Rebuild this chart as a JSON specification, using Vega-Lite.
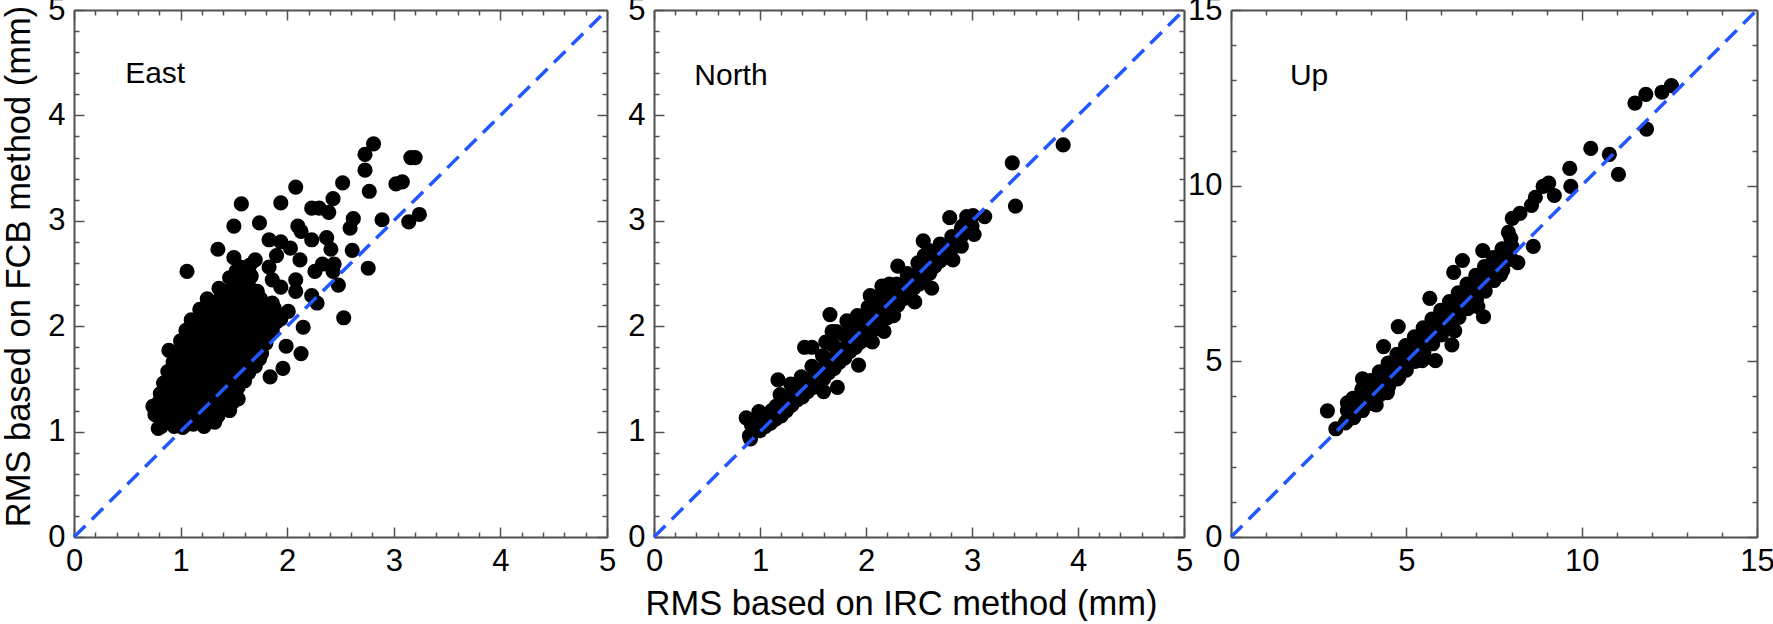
{
  "$schema": "https://vega.github.io/schema/vega-lite/v6.json",
  "background": "white",
  "padding": {"left": 0, "top": -6, "right": 0, "bottom": 0},
  "bounds": "flush",
  "spacing": 47,
  "config": {
    "view": {"stroke": null},
    "font": "Liberation Sans",
    "axis": {
      "domainColor": "#505050", "domainWidth": 2,
      "tickColor": "#505050", "tickWidth": 1.5,
      "labelFont": "Liberation Sans", "labelFontSize": 31, "labelColor": "black",
      "titleFont": "Liberation Sans", "titleFontSize": 34.5, "titleFontWeight": "normal", "titleColor": "black",
      "grid": false, "labelFlush": false, "labelOverlap": false
    }
  },
  "datasets": {
    "pts": [
      {"p":"E","x":1.06,"y":2.52},{"p":"E","x":2.81,"y":3.73},{"p":"E","x":2.73,"y":3.63},{"p":"E","x":2.73,"y":3.48},{"p":"E","x":2.77,"y":3.28},{"p":"E","x":3.16,"y":3.6},{"p":"E","x":3.2,"y":3.6},{"p":"E","x":3.08,"y":3.37},{"p":"E","x":3.02,"y":3.35},{"p":"E","x":3.24,"y":3.06},{"p":"E","x":3.14,"y":2.99},{"p":"E","x":2.89,"y":3.01},{"p":"E","x":2.76,"y":2.55},{"p":"E","x":2.53,"y":2.08},{"p":"E","x":2.52,"y":3.36},{"p":"E","x":2.08,"y":3.32},{"p":"E","x":1.57,"y":3.16},{"p":"E","x":1.94,"y":3.17},{"p":"E","x":1.5,"y":2.95},{"p":"E","x":1.74,"y":2.98},{"p":"E","x":1.35,"y":2.73},{"p":"E","x":0.89,"y":1.77},{"p":"E","x":0.88,"y":1.57},{"p":"E","x":0.79,"y":1.03},{"p":"E","x":0.74,"y":1.24},{"p":"E","x":2.13,"y":1.74},{"p":"E","x":1.84,"y":1.52},{"p":"E","x":1.96,"y":1.6},{"p":"E","x":1.99,"y":1.81},{"p":"E","x":2.15,"y":1.99},{"p":"E","x":2.28,"y":2.22},{"p":"E","x":2.48,"y":2.39},{"p":"E","x":2.61,"y":2.72},{"p":"E","x":2.59,"y":2.93},{"p":"E","x":2.62,"y":3.02},{"p":"E","x":2.43,"y":3.21},{"p":"E","x":2.39,"y":3.08},{"p":"E","x":2.23,"y":3.12},{"p":"E","x":2.3,"y":3.12},{"p":"E","x":2.13,"y":2.9},{"p":"E","x":2.1,"y":2.95},{"p":"E","x":2.23,"y":2.82},{"p":"E","x":2.37,"y":2.84},{"p":"E","x":2.41,"y":2.73},{"p":"E","x":2.33,"y":2.59},{"p":"E","x":2.44,"y":2.59},{"p":"E","x":2.43,"y":2.52},{"p":"E","x":2.26,"y":2.52},{"p":"E","x":2.12,"y":2.63},{"p":"E","x":2.03,"y":2.74},{"p":"E","x":1.94,"y":2.8},{"p":"E","x":1.83,"y":2.82},{"p":"E","x":1.9,"y":2.67},{"p":"E","x":1.7,"y":2.63},{"p":"E","x":1.66,"y":2.48},{"p":"E","x":1.52,"y":2.52},{"p":"E","x":1.5,"y":2.65},{"p":"E","x":2.08,"y":2.44},{"p":"E","x":2.08,"y":2.33},{"p":"E","x":2.23,"y":2.29},{"p":"E","x":1.94,"y":2.37},{"p":"E","x":1.86,"y":2.22},{"p":"E","x":2.01,"y":2.14},{"p":"E","x":1.94,"y":2.07},{"p":"E","x":1.79,"y":2.11},{"p":"E","x":1.86,"y":1.96},{"p":"E","x":1.72,"y":1.88},{"p":"E","x":1.74,"y":1.69},{"p":"E","x":1.64,"y":1.56},{"p":"E","x":1.54,"y":1.47},{"p":"E","x":1.54,"y":1.31},{"p":"E","x":1.35,"y":1.15},{"p":"E","x":1.23,"y":1.13},{"p":"E","x":1.06,"y":1.07},{"p":"E","x":0.94,"y":1.05},{"p":"E","x":1.83,"y":2.56},{"p":"E","x":1.61,"y":2.48},{"p":"E","x":1.86,"y":2.44},
      {"p":"E","x":0.82,"y":1.05},{"p":"E","x":0.92,"y":1.08},{"p":"E","x":1.02,"y":1.04},{"p":"E","x":1.12,"y":1.07},{"p":"E","x":1.22,"y":1.05},{"p":"E","x":1.32,"y":1.09},
      {"p":"E","x":0.76,"y":1.16},{"p":"E","x":0.86,"y":1.14},{"p":"E","x":0.96,"y":1.17},{"p":"E","x":1.06,"y":1.15},{"p":"E","x":1.16,"y":1.13},{"p":"E","x":1.26,"y":1.17},{"p":"E","x":1.36,"y":1.18},{"p":"E","x":1.46,"y":1.2},
      {"p":"E","x":0.79,"y":1.27},{"p":"E","x":0.89,"y":1.24},{"p":"E","x":0.99,"y":1.26},{"p":"E","x":1.09,"y":1.25},{"p":"E","x":1.19,"y":1.23},{"p":"E","x":1.29,"y":1.27},{"p":"E","x":1.39,"y":1.26},{"p":"E","x":1.49,"y":1.28},
      {"p":"E","x":0.81,"y":1.36},{"p":"E","x":0.91,"y":1.34},{"p":"E","x":1.01,"y":1.37},{"p":"E","x":1.11,"y":1.35},{"p":"E","x":1.21,"y":1.33},{"p":"E","x":1.31,"y":1.36},{"p":"E","x":1.41,"y":1.35},{"p":"E","x":1.51,"y":1.38},
      {"p":"E","x":0.84,"y":1.46},{"p":"E","x":0.94,"y":1.44},{"p":"E","x":1.04,"y":1.47},{"p":"E","x":1.14,"y":1.45},{"p":"E","x":1.24,"y":1.43},{"p":"E","x":1.34,"y":1.46},{"p":"E","x":1.44,"y":1.45},{"p":"E","x":1.54,"y":1.42},{"p":"E","x":1.6,"y":1.48},
      {"p":"E","x":0.9,"y":1.56},{"p":"E","x":1.0,"y":1.54},{"p":"E","x":1.1,"y":1.57},{"p":"E","x":1.2,"y":1.55},{"p":"E","x":1.3,"y":1.53},{"p":"E","x":1.4,"y":1.56},{"p":"E","x":1.5,"y":1.55},{"p":"E","x":1.6,"y":1.6},
      {"p":"E","x":0.93,"y":1.66},{"p":"E","x":1.03,"y":1.64},{"p":"E","x":1.13,"y":1.67},{"p":"E","x":1.23,"y":1.65},{"p":"E","x":1.33,"y":1.63},{"p":"E","x":1.43,"y":1.66},{"p":"E","x":1.53,"y":1.65},{"p":"E","x":1.63,"y":1.67},{"p":"E","x":1.7,"y":1.62},
      {"p":"E","x":0.97,"y":1.76},{"p":"E","x":1.07,"y":1.74},{"p":"E","x":1.17,"y":1.77},{"p":"E","x":1.27,"y":1.75},{"p":"E","x":1.37,"y":1.73},{"p":"E","x":1.47,"y":1.76},{"p":"E","x":1.57,"y":1.75},{"p":"E","x":1.67,"y":1.77},{"p":"E","x":1.76,"y":1.74},
      {"p":"E","x":1.0,"y":1.86},{"p":"E","x":1.1,"y":1.84},{"p":"E","x":1.2,"y":1.87},{"p":"E","x":1.3,"y":1.85},{"p":"E","x":1.4,"y":1.83},{"p":"E","x":1.5,"y":1.86},{"p":"E","x":1.6,"y":1.85},{"p":"E","x":1.7,"y":1.87},{"p":"E","x":1.8,"y":1.84},
      {"p":"E","x":1.05,"y":1.96},{"p":"E","x":1.15,"y":1.94},{"p":"E","x":1.25,"y":1.97},{"p":"E","x":1.35,"y":1.95},{"p":"E","x":1.45,"y":1.93},{"p":"E","x":1.55,"y":1.96},{"p":"E","x":1.65,"y":1.95},{"p":"E","x":1.75,"y":1.97},{"p":"E","x":1.85,"y":1.94},
      {"p":"E","x":1.1,"y":2.06},{"p":"E","x":1.2,"y":2.04},{"p":"E","x":1.3,"y":2.07},{"p":"E","x":1.4,"y":2.05},{"p":"E","x":1.5,"y":2.03},{"p":"E","x":1.6,"y":2.06},{"p":"E","x":1.7,"y":2.05},{"p":"E","x":1.8,"y":2.07},{"p":"E","x":1.9,"y":2.04},
      {"p":"E","x":1.18,"y":2.16},{"p":"E","x":1.28,"y":2.14},{"p":"E","x":1.38,"y":2.17},{"p":"E","x":1.48,"y":2.15},{"p":"E","x":1.58,"y":2.13},{"p":"E","x":1.68,"y":2.16},{"p":"E","x":1.78,"y":2.15},{"p":"E","x":1.88,"y":2.17},
      {"p":"E","x":1.25,"y":2.26},{"p":"E","x":1.35,"y":2.24},{"p":"E","x":1.45,"y":2.27},{"p":"E","x":1.55,"y":2.25},{"p":"E","x":1.65,"y":2.23},{"p":"E","x":1.75,"y":2.26},
      {"p":"E","x":1.36,"y":2.36},{"p":"E","x":1.46,"y":2.34},{"p":"E","x":1.56,"y":2.37},{"p":"E","x":1.66,"y":2.35},{"p":"E","x":1.72,"y":2.33},
      {"p":"E","x":1.46,"y":2.46},{"p":"E","x":1.56,"y":2.44},{"p":"E","x":1.66,"y":2.47},{"p":"E","x":1.56,"y":2.56},{"p":"E","x":1.65,"y":2.58},
      {"p":"E","x":0.87,"y":1.1},{"p":"E","x":0.97,"y":1.12},{"p":"E","x":1.07,"y":1.11},{"p":"E","x":1.17,"y":1.1},{"p":"E","x":1.27,"y":1.12},{"p":"E","x":0.84,"y":1.2},{"p":"E","x":0.94,"y":1.21},{"p":"E","x":1.04,"y":1.2},{"p":"E","x":1.14,"y":1.19},{"p":"E","x":1.24,"y":1.21},{"p":"E","x":1.34,"y":1.22},{"p":"E","x":1.44,"y":1.24},{"p":"E","x":0.86,"y":1.31},{"p":"E","x":0.96,"y":1.3},{"p":"E","x":1.06,"y":1.31},{"p":"E","x":1.16,"y":1.29},{"p":"E","x":1.26,"y":1.31},{"p":"E","x":1.36,"y":1.3},{"p":"E","x":1.46,"y":1.32},{"p":"E","x":0.88,"y":1.41},{"p":"E","x":0.98,"y":1.4},{"p":"E","x":1.08,"y":1.41},{"p":"E","x":1.18,"y":1.39},{"p":"E","x":1.28,"y":1.41},{"p":"E","x":1.38,"y":1.4},{"p":"E","x":1.48,"y":1.41},{"p":"E","x":0.95,"y":1.51},{"p":"E","x":1.05,"y":1.5},{"p":"E","x":1.15,"y":1.51},{"p":"E","x":1.25,"y":1.49},{"p":"E","x":1.35,"y":1.51},{"p":"E","x":1.45,"y":1.5},{"p":"E","x":1.55,"y":1.51},{"p":"E","x":0.98,"y":1.61},{"p":"E","x":1.08,"y":1.6},{"p":"E","x":1.18,"y":1.61},{"p":"E","x":1.28,"y":1.59},{"p":"E","x":1.38,"y":1.61},{"p":"E","x":1.48,"y":1.6},{"p":"E","x":1.58,"y":1.62},{"p":"E","x":1.02,"y":1.71},{"p":"E","x":1.12,"y":1.7},{"p":"E","x":1.22,"y":1.71},{"p":"E","x":1.32,"y":1.69},{"p":"E","x":1.42,"y":1.71},{"p":"E","x":1.52,"y":1.7},{"p":"E","x":1.62,"y":1.72},{"p":"E","x":1.05,"y":1.81},{"p":"E","x":1.15,"y":1.8},{"p":"E","x":1.25,"y":1.81},{"p":"E","x":1.35,"y":1.79},{"p":"E","x":1.45,"y":1.81},{"p":"E","x":1.55,"y":1.8},{"p":"E","x":1.65,"y":1.82},{"p":"E","x":1.75,"y":1.8},{"p":"E","x":1.1,"y":1.91},{"p":"E","x":1.2,"y":1.9},{"p":"E","x":1.3,"y":1.91},{"p":"E","x":1.4,"y":1.89},{"p":"E","x":1.5,"y":1.91},{"p":"E","x":1.6,"y":1.9},{"p":"E","x":1.7,"y":1.92},{"p":"E","x":1.8,"y":1.9},{"p":"E","x":1.15,"y":2.01},{"p":"E","x":1.25,"y":2.0},{"p":"E","x":1.35,"y":2.01},{"p":"E","x":1.45,"y":1.99},{"p":"E","x":1.55,"y":2.01},{"p":"E","x":1.65,"y":2.0},{"p":"E","x":1.75,"y":2.02},{"p":"E","x":1.85,"y":2.0},{"p":"E","x":1.22,"y":2.11},{"p":"E","x":1.32,"y":2.1},{"p":"E","x":1.42,"y":2.11},{"p":"E","x":1.52,"y":2.09},{"p":"E","x":1.62,"y":2.11},{"p":"E","x":1.72,"y":2.1},{"p":"E","x":1.82,"y":2.12},{"p":"E","x":1.3,"y":2.21},{"p":"E","x":1.4,"y":2.2},{"p":"E","x":1.5,"y":2.21},{"p":"E","x":1.6,"y":2.19},{"p":"E","x":1.7,"y":2.21},{"p":"E","x":1.4,"y":2.31},{"p":"E","x":1.5,"y":2.3},{"p":"E","x":1.6,"y":2.31},{"p":"E","x":1.51,"y":2.41},{"p":"E","x":1.61,"y":2.4},

      {"p":"N","x":3.86,"y":3.72},{"p":"N","x":3.38,"y":3.55},{"p":"N","x":3.41,"y":3.14},{"p":"N","x":3.12,"y":3.04},{"p":"N","x":3.02,"y":2.87},{"p":"N","x":2.95,"y":3.04},{"p":"N","x":2.79,"y":3.03},{"p":"N","x":2.9,"y":2.93},{"p":"N","x":2.82,"y":2.63},{"p":"N","x":2.9,"y":2.76},{"p":"N","x":2.7,"y":2.78},{"p":"N","x":2.54,"y":2.81},{"p":"N","x":2.3,"y":2.57},{"p":"N","x":2.62,"y":2.36},{"p":"N","x":2.64,"y":2.63},{"p":"N","x":2.55,"y":2.67},{"p":"N","x":2.51,"y":2.55},{"p":"N","x":2.39,"y":2.48},{"p":"N","x":2.46,"y":2.23},{"p":"N","x":2.37,"y":2.33},{"p":"N","x":2.15,"y":2.38},{"p":"N","x":2.04,"y":2.29},{"p":"N","x":2.26,"y":2.1},{"p":"N","x":2.17,"y":1.95},{"p":"N","x":2.06,"y":1.85},{"p":"N","x":1.93,"y":1.63},{"p":"N","x":1.66,"y":2.11},{"p":"N","x":1.68,"y":1.95},{"p":"N","x":1.49,"y":1.8},{"p":"N","x":1.42,"y":1.8},{"p":"N","x":1.73,"y":1.42},{"p":"N","x":1.6,"y":1.38},{"p":"N","x":1.17,"y":1.49},{"p":"N","x":0.87,"y":1.13},{"p":"N","x":0.91,"y":0.93},{"p":"N","x":0.95,"y":1.0},
      {"p":"N","x":0.9,"y":0.96},{"p":"N","x":0.92,"y":1.06},{"p":"N","x":1.0,"y":1.01},{"p":"N","x":1.01,"y":1.12},{"p":"N","x":0.99,"y":1.19},{"p":"N","x":1.1,"y":1.08},{"p":"N","x":1.11,"y":1.2},{"p":"N","x":1.2,"y":1.15},{"p":"N","x":1.21,"y":1.27},{"p":"N","x":1.19,"y":1.35},{"p":"N","x":1.3,"y":1.25},{"p":"N","x":1.31,"y":1.35},{"p":"N","x":1.29,"y":1.45},{"p":"N","x":1.4,"y":1.33},{"p":"N","x":1.41,"y":1.43},{"p":"N","x":1.39,"y":1.52},{"p":"N","x":1.5,"y":1.42},{"p":"N","x":1.51,"y":1.52},{"p":"N","x":1.49,"y":1.62},{"p":"N","x":1.6,"y":1.5},{"p":"N","x":1.61,"y":1.62},{"p":"N","x":1.59,"y":1.72},{"p":"N","x":1.62,"y":1.85},{"p":"N","x":1.7,"y":1.6},{"p":"N","x":1.71,"y":1.7},{"p":"N","x":1.69,"y":1.82},{"p":"N","x":1.72,"y":1.95},{"p":"N","x":1.8,"y":1.7},{"p":"N","x":1.81,"y":1.8},{"p":"N","x":1.79,"y":1.92},{"p":"N","x":1.82,"y":2.05},{"p":"N","x":1.9,"y":1.8},{"p":"N","x":1.91,"y":1.9},{"p":"N","x":1.89,"y":2.0},{"p":"N","x":1.92,"y":2.1},{"p":"N","x":2.0,"y":1.88},{"p":"N","x":2.01,"y":1.98},{"p":"N","x":1.99,"y":2.08},{"p":"N","x":2.02,"y":2.18},{"p":"N","x":2.1,"y":1.98},{"p":"N","x":2.11,"y":2.08},{"p":"N","x":2.09,"y":2.18},{"p":"N","x":2.12,"y":2.28},{"p":"N","x":2.2,"y":2.08},{"p":"N","x":2.21,"y":2.18},{"p":"N","x":2.19,"y":2.28},{"p":"N","x":2.22,"y":2.4},{"p":"N","x":2.3,"y":2.2},{"p":"N","x":2.31,"y":2.3},{"p":"N","x":2.29,"y":2.4},{"p":"N","x":2.4,"y":2.3},{"p":"N","x":2.41,"y":2.4},{"p":"N","x":2.39,"y":2.5},{"p":"N","x":2.5,"y":2.4},{"p":"N","x":2.51,"y":2.5},{"p":"N","x":2.49,"y":2.6},{"p":"N","x":2.6,"y":2.5},{"p":"N","x":2.61,"y":2.62},{"p":"N","x":2.59,"y":2.72},{"p":"N","x":2.7,"y":2.62},{"p":"N","x":2.71,"y":2.72},{"p":"N","x":2.8,"y":2.72},{"p":"N","x":2.81,"y":2.85},{"p":"N","x":2.9,"y":2.85},{"p":"N","x":2.91,"y":2.95},{"p":"N","x":3.0,"y":2.95},{"p":"N","x":3.01,"y":3.05},
      {"p":"N","x":0.95,"y":1.08},{"p":"N","x":1.05,"y":1.05},{"p":"N","x":1.05,"y":1.15},{"p":"N","x":1.15,"y":1.12},{"p":"N","x":1.15,"y":1.24},{"p":"N","x":1.25,"y":1.2},{"p":"N","x":1.25,"y":1.32},{"p":"N","x":1.35,"y":1.3},{"p":"N","x":1.35,"y":1.41},{"p":"N","x":1.45,"y":1.38},{"p":"N","x":1.45,"y":1.49},{"p":"N","x":1.55,"y":1.47},{"p":"N","x":1.55,"y":1.58},{"p":"N","x":1.65,"y":1.56},{"p":"N","x":1.65,"y":1.68},{"p":"N","x":1.75,"y":1.66},{"p":"N","x":1.75,"y":1.78},{"p":"N","x":1.85,"y":1.76},{"p":"N","x":1.85,"y":1.88},{"p":"N","x":1.95,"y":1.85},{"p":"N","x":1.95,"y":1.97},{"p":"N","x":2.05,"y":1.95},{"p":"N","x":2.05,"y":2.07},{"p":"N","x":2.15,"y":2.05},{"p":"N","x":2.15,"y":2.17},{"p":"N","x":2.25,"y":2.15},{"p":"N","x":2.25,"y":2.27},{"p":"N","x":2.35,"y":2.26},{"p":"N","x":2.35,"y":2.37},{"p":"N","x":2.45,"y":2.36},{"p":"N","x":2.45,"y":2.47},{"p":"N","x":2.55,"y":2.46},{"p":"N","x":2.55,"y":2.57},{"p":"N","x":2.65,"y":2.57},{"p":"N","x":2.65,"y":2.68},{"p":"N","x":2.75,"y":2.68},{"p":"N","x":2.85,"y":2.79},{"p":"N","x":2.95,"y":2.9},

      {"p":"U","x":2.75,"y":3.59},{"p":"U","x":2.99,"y":3.08},{"p":"U","x":3.26,"y":3.25},{"p":"U","x":3.32,"y":3.82},{"p":"U","x":12.56,"y":12.85},{"p":"U","x":12.29,"y":12.66},{"p":"U","x":11.83,"y":12.6},{"p":"U","x":11.52,"y":12.35},{"p":"U","x":11.85,"y":11.61},{"p":"U","x":11.05,"y":10.32},{"p":"U","x":10.79,"y":10.89},{"p":"U","x":10.26,"y":11.06},{"p":"U","x":9.66,"y":10.49},{"p":"U","x":9.69,"y":9.98},{"p":"U","x":9.22,"y":9.72},{"p":"U","x":9.06,"y":10.07},{"p":"U","x":8.9,"y":9.98},{"p":"U","x":8.68,"y":9.67},{"p":"U","x":8.57,"y":9.44},{"p":"U","x":8.24,"y":9.21},{"p":"U","x":8.02,"y":9.07},{"p":"U","x":7.91,"y":8.67},{"p":"U","x":8.62,"y":8.27},{"p":"U","x":8.18,"y":7.81},{"p":"U","x":7.47,"y":7.41},{"p":"U","x":7.64,"y":7.81},{"p":"U","x":7.18,"y":8.15},{"p":"U","x":7.2,"y":6.27},{"p":"U","x":6.6,"y":7.87},{"p":"U","x":6.35,"y":7.53},{"p":"U","x":5.67,"y":6.79},{"p":"U","x":4.77,"y":5.99},{"p":"U","x":6.3,"y":5.47},{"p":"U","x":5.83,"y":5.02},{"p":"U","x":5.45,"y":5.02},{"p":"U","x":4.35,"y":5.42},{"p":"U","x":3.75,"y":4.5},{"p":"U","x":4.14,"y":3.76},{"p":"U","x":4.46,"y":4.11},{"p":"U","x":4.79,"y":4.56},{"p":"U","x":6.38,"y":5.87},{"p":"U","x":7.04,"y":6.56},{"p":"U","x":7.69,"y":7.47},
      {"p":"U","x":3.3,"y":3.3},{"p":"U","x":3.32,"y":3.6},{"p":"U","x":3.5,"y":3.4},{"p":"U","x":3.52,"y":3.7},{"p":"U","x":3.48,"y":3.95},{"p":"U","x":3.75,"y":3.6},{"p":"U","x":3.77,"y":3.9},{"p":"U","x":3.73,"y":4.2},{"p":"U","x":4.0,"y":3.8},{"p":"U","x":4.02,"y":4.15},{"p":"U","x":3.98,"y":4.45},{"p":"U","x":4.25,"y":4.05},{"p":"U","x":4.27,"y":4.4},{"p":"U","x":4.23,"y":4.7},{"p":"U","x":4.5,"y":4.3},{"p":"U","x":4.52,"y":4.65},{"p":"U","x":4.48,"y":4.95},{"p":"U","x":4.75,"y":4.5},{"p":"U","x":4.77,"y":4.85},{"p":"U","x":4.73,"y":5.2},{"p":"U","x":5.0,"y":4.75},{"p":"U","x":5.02,"y":5.1},{"p":"U","x":4.98,"y":5.45},{"p":"U","x":5.25,"y":5.0},{"p":"U","x":5.27,"y":5.35},{"p":"U","x":5.23,"y":5.7},{"p":"U","x":5.5,"y":5.25},{"p":"U","x":5.52,"y":5.6},{"p":"U","x":5.48,"y":5.95},{"p":"U","x":5.75,"y":5.5},{"p":"U","x":5.77,"y":5.85},{"p":"U","x":5.73,"y":6.2},{"p":"U","x":6.0,"y":5.75},{"p":"U","x":6.02,"y":6.1},{"p":"U","x":5.98,"y":6.45},{"p":"U","x":6.25,"y":6.0},{"p":"U","x":6.27,"y":6.35},{"p":"U","x":6.23,"y":6.7},{"p":"U","x":6.5,"y":6.25},{"p":"U","x":6.52,"y":6.6},{"p":"U","x":6.48,"y":6.95},{"p":"U","x":6.75,"y":6.5},{"p":"U","x":6.77,"y":6.85},{"p":"U","x":6.73,"y":7.2},{"p":"U","x":7.0,"y":6.75},{"p":"U","x":7.02,"y":7.1},{"p":"U","x":6.98,"y":7.45},{"p":"U","x":7.25,"y":7.0},{"p":"U","x":7.27,"y":7.35},{"p":"U","x":7.23,"y":7.7},{"p":"U","x":7.5,"y":7.3},{"p":"U","x":7.52,"y":7.6},{"p":"U","x":7.48,"y":7.95},{"p":"U","x":7.75,"y":7.6},{"p":"U","x":7.77,"y":7.9},{"p":"U","x":7.73,"y":8.2},{"p":"U","x":8.0,"y":7.9},{"p":"U","x":8.02,"y":8.25},{"p":"U","x":7.98,"y":8.5},
      {"p":"U","x":3.4,"y":3.5},{"p":"U","x":3.62,"y":3.78},{"p":"U","x":3.88,"y":4.02},{"p":"U","x":4.12,"y":4.28},{"p":"U","x":4.38,"y":4.52},{"p":"U","x":4.62,"y":4.78},{"p":"U","x":4.88,"y":5.02},{"p":"U","x":5.12,"y":5.25},{"p":"U","x":5.38,"y":5.5},{"p":"U","x":5.62,"y":5.75},{"p":"U","x":5.88,"y":6.0},{"p":"U","x":6.12,"y":6.25},{"p":"U","x":6.38,"y":6.5},{"p":"U","x":6.62,"y":6.75},{"p":"U","x":6.88,"y":7.0},{"p":"U","x":7.12,"y":7.25},{"p":"U","x":7.38,"y":7.5},{"p":"U","x":7.62,"y":7.75},{"p":"U","x":7.88,"y":8.05}
    ],
    "diag": [
      {"p":"E","x":0,"y":0,"x2":5,"y2":5},
      {"p":"N","x":0,"y":0,"x2":5,"y2":5},
      {"p":"U","x":0,"y":0,"x2":15,"y2":15}
    ],
    "lab": [
      {"p":"E","t":"East","x":0.48,"y":4.31},
      {"p":"N","t":"North","x":0.38,"y":4.29},
      {"p":"U","t":"Up","x":1.68,"y":12.87}
    ]
  },
  "hconcat": [
    {
      "width": 533, "height": 527,
      "resolve": {"axis": {"x": "independent", "y": "independent"}},
      "layer": [
        {
          "data": {"name": "pts"}, "transform": [{"filter": "datum.p === 'E'"}],
          "mark": {"type": "circle", "size": 230, "opacity": 1, "color": "black"},
          "encoding": {
            "x": {"field": "x", "type": "quantitative", "scale": {"domain": [0, 5], "nice": false},
              "axis": {"orient": "bottom", "title": null, "values": [0,0.2,0.4,0.6,0.8,1,1.2,1.4,1.6,1.8,2,2.2,2.4,2.6,2.8,3,3.2,3.4,3.6,3.8,4,4.2,4.4,4.6,4.8,5],
                "tickSize": {"condition": {"test": "datum.value % 1 === 0", "value": -10}, "value": -5},
                "labelPadding": 19, "labelExpr": "datum.value % 1 === 0 ? '' + datum.value : ''"}},
            "y": {"field": "y", "type": "quantitative", "scale": {"domain": [0, 5], "nice": false},
              "axis": {"orient": "left", "title": "RMS based on FCB method (mm)", "titleX": -45, "titleY": 256, "titleBaseline": "alphabetic", "titleAngle": -90,
                "values": [0,0.2,0.4,0.6,0.8,1,1.2,1.4,1.6,1.8,2,2.2,2.4,2.6,2.8,3,3.2,3.4,3.6,3.8,4,4.2,4.4,4.6,4.8,5],
                "tickSize": {"condition": {"test": "datum.value % 1 === 0", "value": -10}, "value": -5},
                "labelPadding": 19, "labelExpr": "datum.value % 1 === 0 ? '' + datum.value : ''"}}
          }
        },
        {
          "data": {"name": "diag"}, "transform": [{"filter": "datum.p === 'E'"}],
          "mark": {"type": "rule", "color": "#2157ff", "strokeWidth": 3.5, "strokeDash": [16, 9]},
          "encoding": {
            "x": {"field": "x", "type": "quantitative",
              "axis": {"orient": "top", "title": null, "labels": false, "values": [0,0.2,0.4,0.6,0.8,1,1.2,1.4,1.6,1.8,2,2.2,2.4,2.6,2.8,3,3.2,3.4,3.6,3.8,4,4.2,4.4,4.6,4.8,5],
                "tickSize": {"condition": {"test": "datum.value % 1 === 0", "value": -10}, "value": -5}}},
            "y": {"field": "y", "type": "quantitative",
              "axis": {"orient": "right", "title": null, "labels": false, "values": [0,0.2,0.4,0.6,0.8,1,1.2,1.4,1.6,1.8,2,2.2,2.4,2.6,2.8,3,3.2,3.4,3.6,3.8,4,4.2,4.4,4.6,4.8,5],
                "tickSize": {"condition": {"test": "datum.value % 1 === 0", "value": -10}, "value": -5}}},
            "x2": {"field": "x2"}, "y2": {"field": "y2"}
          }
        },
        {
          "data": {"name": "lab"}, "transform": [{"filter": "datum.p === 'E'"}],
          "mark": {"type": "text", "fontSize": 30, "align": "left", "baseline": "alphabetic", "color": "black"},
          "encoding": {
            "x": {"field": "x", "type": "quantitative", "axis": null},
            "y": {"field": "y", "type": "quantitative", "axis": null},
            "text": {"field": "t"}
          }
        }
      ]
    },
    {
      "width": 530, "height": 527,
      "resolve": {"axis": {"x": "independent", "y": "independent"}},
      "layer": [
        {
          "data": {"name": "pts"}, "transform": [{"filter": "datum.p === 'N'"}],
          "mark": {"type": "circle", "size": 230, "opacity": 1, "color": "black"},
          "encoding": {
            "x": {"field": "x", "type": "quantitative", "scale": {"domain": [0, 5], "nice": false},
              "axis": {"orient": "bottom", "title": "RMS based on IRC method (mm)", "titleX": 247, "titleY": 77, "titleBaseline": "alphabetic",
                "values": [0,0.2,0.4,0.6,0.8,1,1.2,1.4,1.6,1.8,2,2.2,2.4,2.6,2.8,3,3.2,3.4,3.6,3.8,4,4.2,4.4,4.6,4.8,5],
                "tickSize": {"condition": {"test": "datum.value % 1 === 0", "value": -10}, "value": -5},
                "labelPadding": 19, "labelExpr": "datum.value % 1 === 0 ? '' + datum.value : ''"}},
            "y": {"field": "y", "type": "quantitative", "scale": {"domain": [0, 5], "nice": false},
              "axis": {"orient": "left", "title": null,
                "values": [0,0.2,0.4,0.6,0.8,1,1.2,1.4,1.6,1.8,2,2.2,2.4,2.6,2.8,3,3.2,3.4,3.6,3.8,4,4.2,4.4,4.6,4.8,5],
                "tickSize": {"condition": {"test": "datum.value % 1 === 0", "value": -10}, "value": -5},
                "labelPadding": 19, "labelExpr": "datum.value % 1 === 0 ? '' + datum.value : ''"}}
          }
        },
        {
          "data": {"name": "diag"}, "transform": [{"filter": "datum.p === 'N'"}],
          "mark": {"type": "rule", "color": "#2157ff", "strokeWidth": 3.5, "strokeDash": [16, 9]},
          "encoding": {
            "x": {"field": "x", "type": "quantitative",
              "axis": {"orient": "top", "title": null, "labels": false, "values": [0,0.2,0.4,0.6,0.8,1,1.2,1.4,1.6,1.8,2,2.2,2.4,2.6,2.8,3,3.2,3.4,3.6,3.8,4,4.2,4.4,4.6,4.8,5],
                "tickSize": {"condition": {"test": "datum.value % 1 === 0", "value": -10}, "value": -5}}},
            "y": {"field": "y", "type": "quantitative",
              "axis": {"orient": "right", "title": null, "labels": false, "values": [0,0.2,0.4,0.6,0.8,1,1.2,1.4,1.6,1.8,2,2.2,2.4,2.6,2.8,3,3.2,3.4,3.6,3.8,4,4.2,4.4,4.6,4.8,5],
                "tickSize": {"condition": {"test": "datum.value % 1 === 0", "value": -10}, "value": -5}}},
            "x2": {"field": "x2"}, "y2": {"field": "y2"}
          }
        },
        {
          "data": {"name": "lab"}, "transform": [{"filter": "datum.p === 'N'"}],
          "mark": {"type": "text", "fontSize": 30, "align": "left", "baseline": "alphabetic", "color": "black"},
          "encoding": {
            "x": {"field": "x", "type": "quantitative", "axis": null},
            "y": {"field": "y", "type": "quantitative", "axis": null},
            "text": {"field": "t"}
          }
        }
      ]
    },
    {
      "width": 526, "height": 527,
      "resolve": {"axis": {"x": "independent", "y": "independent"}},
      "layer": [
        {
          "data": {"name": "pts"}, "transform": [{"filter": "datum.p === 'U'"}],
          "mark": {"type": "circle", "size": 230, "opacity": 1, "color": "black"},
          "encoding": {
            "x": {"field": "x", "type": "quantitative", "scale": {"domain": [0, 15], "nice": false},
              "axis": {"orient": "bottom", "title": null, "values": [0,1,2,3,4,5,6,7,8,9,10,11,12,13,14,15],
                "tickSize": {"condition": {"test": "datum.value % 5 === 0", "value": -10}, "value": -5},
                "labelPadding": 19, "labelExpr": "datum.value % 5 === 0 ? '' + datum.value : ''"}},
            "y": {"field": "y", "type": "quantitative", "scale": {"domain": [0, 15], "nice": false},
              "axis": {"orient": "left", "title": null, "values": [0,1,2,3,4,5,6,7,8,9,10,11,12,13,14,15],
                "tickSize": {"condition": {"test": "datum.value % 5 === 0", "value": -10}, "value": -5},
                "labelPadding": 19, "labelExpr": "datum.value % 5 === 0 ? '' + datum.value : ''"}}
          }
        },
        {
          "data": {"name": "diag"}, "transform": [{"filter": "datum.p === 'U'"}],
          "mark": {"type": "rule", "color": "#2157ff", "strokeWidth": 3.5, "strokeDash": [16, 9]},
          "encoding": {
            "x": {"field": "x", "type": "quantitative",
              "axis": {"orient": "top", "title": null, "labels": false, "values": [0,1,2,3,4,5,6,7,8,9,10,11,12,13,14,15],
                "tickSize": {"condition": {"test": "datum.value % 5 === 0", "value": -10}, "value": -5}}},
            "y": {"field": "y", "type": "quantitative",
              "axis": {"orient": "right", "title": null, "labels": false, "values": [0,1,2,3,4,5,6,7,8,9,10,11,12,13,14,15],
                "tickSize": {"condition": {"test": "datum.value % 5 === 0", "value": -10}, "value": -5}}},
            "x2": {"field": "x2"}, "y2": {"field": "y2"}
          }
        },
        {
          "data": {"name": "lab"}, "transform": [{"filter": "datum.p === 'U'"}],
          "mark": {"type": "text", "fontSize": 30, "align": "left", "baseline": "alphabetic", "color": "black"},
          "encoding": {
            "x": {"field": "x", "type": "quantitative", "axis": null},
            "y": {"field": "y", "type": "quantitative", "axis": null},
            "text": {"field": "t"}
          }
        }
      ]
    }
  ]
}
